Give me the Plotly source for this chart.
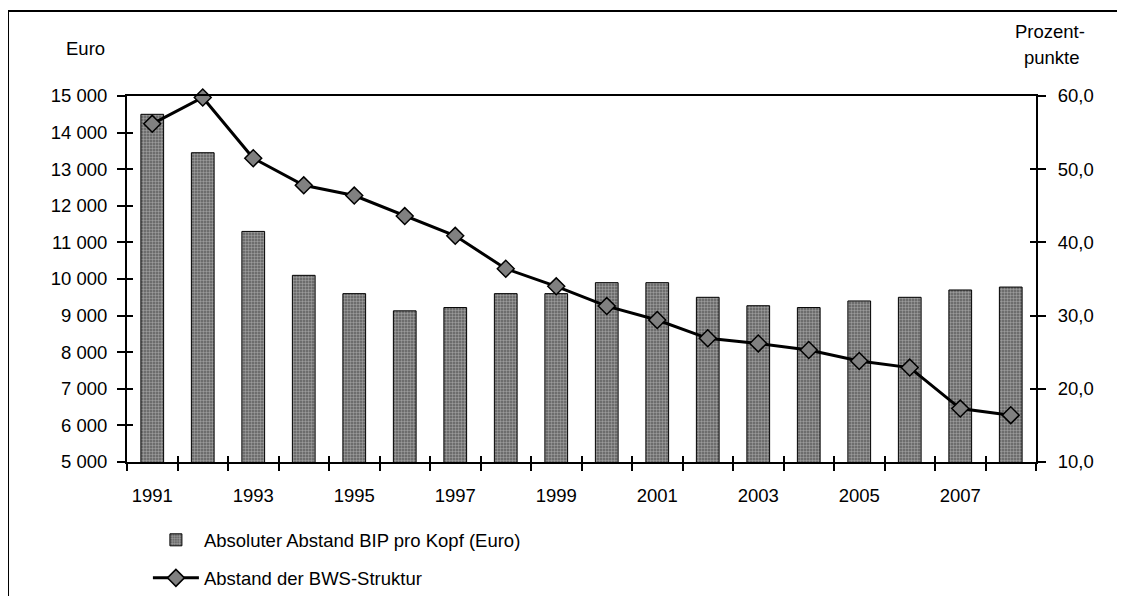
import plotly.graph_objects as go

years = list(range(1991, 2009))
bip_abstand = [14500, 13450, 11300, 10100, 9600, 9130, 9220, 9600, 9600,
               9900, 9900, 9500, 9270, 9220, 9400, 9500, 9700, 9780]
bws_abstand = [56.2, 59.8, 51.5, 47.8, 46.4, 43.6, 40.9, 36.4, 34.0,
               31.3, 29.4, 26.9, 26.2, 25.3, 23.8, 22.9, 17.3, 16.4]
label_years = [1991, 1993, 1995, 1997, 1999, 2001, 2003, 2005, 2007]
boundaries = [y - 0.5 for y in years] + [years[-1] + 0.5]

FONT = "Arial, Liberation Sans, sans-serif"
fs = 18.5

fig = go.Figure()
fig.add_trace(go.Bar(
    x=years, y=bip_abstand, width=0.45,
    name="Absoluter Abstand BIP pro Kopf (Euro)",
    marker=dict(color="#5e5e5e", line=dict(color="black", width=1),
                pattern=dict(shape=".", fgcolor="#d8d8d8", size=3, solidity=0.5)),
    legendgroup="a", xaxis="x", yaxis="y",
))
fig.add_trace(go.Scatter(
    x=years, y=bws_abstand, mode="lines+markers",
    name="Abstand der BWS-Struktur",
    line=dict(color="black", width=3),
    marker=dict(symbol="diamond", size=13, color="#808080",
                line=dict(color="black", width=1.5)),
    cliponaxis=False,
    legendgroup="b", xaxis="x", yaxis="y2",
))
# invisible helper traces so the overlay tick axes (crossing ticks) get drawn
fig.add_trace(go.Scatter(x=years, y=bip_abstand, xaxis="x2", yaxis="y3", mode="markers",
                         marker=dict(opacity=0), showlegend=False, hoverinfo="skip"))
fig.add_trace(go.Scatter(x=years, y=bws_abstand, xaxis="x3", yaxis="y4", mode="markers",
                         marker=dict(opacity=0), showlegend=False, hoverinfo="skip"))

xr = [1990.5, 2008.5]
yr_l = [5000, 15000]
yr_r = [10, 60]
ac = dict(showgrid=False, zeroline=False)
tickstyle = dict(tickwidth=1.5, tickcolor="black")
fig.update_layout(
    width=1125, height=596,
    margin=dict(l=119, r=97, t=88, b=142, autoexpand=False),
    paper_bgcolor="white", plot_bgcolor="white",
    font=dict(family=FONT, size=fs, color="black"),
    separators=", ",
    xaxis=dict(range=xr, tickvals=label_years, ticktext=[str(y) for y in label_years],
               ticks="outside", ticklen=16, tickcolor="rgba(0,0,0,0)",
               showline=True, linecolor="black", linewidth=2, mirror=True, **ac),
    xaxis2=dict(range=xr, overlaying="x", anchor="y", side="bottom",
                tickvals=boundaries, ticks="outside", ticklen=8,
                showticklabels=False, showline=False, **tickstyle, **ac),
    xaxis3=dict(range=xr, overlaying="x", anchor="y", side="bottom",
                tickvals=boundaries, ticks="inside", ticklen=6,
                showticklabels=False, showline=False, **tickstyle, **ac),
    yaxis=dict(range=yr_l, dtick=1000, tickformat=",d", anchor="x",
               ticks="outside", ticklen=8, ticklabelstandoff=6, **tickstyle,
               showline=True, linecolor="black", linewidth=2, **ac),
    yaxis2=dict(range=yr_r, dtick=10, tickformat=".1f", overlaying="y", side="right",
                anchor="x", ticks="outside", ticklen=8, ticklabelstandoff=8, **tickstyle,
                showline=True, linecolor="black", linewidth=2, **ac),
    yaxis3=dict(range=yr_l, dtick=1000, overlaying="y", side="left", anchor="x",
                ticks="inside", ticklen=6, showticklabels=False, showline=False,
                **tickstyle, **ac),
    yaxis4=dict(range=yr_r, dtick=10, overlaying="y", side="right", anchor="x",
                ticks="inside", ticklen=6, showticklabels=False, showline=False,
                **tickstyle, **ac),
    legend=dict(x=0.023, y=-0.162, xanchor="left", yanchor="top",
                orientation="v", itemwidth=46, tracegroupgap=11,
                font=dict(family=FONT, size=fs), bgcolor="rgba(0,0,0,0)"),
    showlegend=True,
)

fig.add_annotation(text="Euro", xref="paper", yref="paper", x=-0.046, y=1.131,
                   showarrow=False, xanchor="center", yanchor="middle", font=dict(size=fs))
fig.add_annotation(text="Prozent-", xref="paper", yref="paper", x=1.0154, y=1.175,
                   showarrow=False, xanchor="center", yanchor="middle", font=dict(size=fs))
fig.add_annotation(text="punkte", xref="paper", yref="paper", x=1.0176, y=1.104,
                   showarrow=False, xanchor="center", yanchor="middle", font=dict(size=fs))

fig.add_shape(type="rect", xref="paper", yref="paper",
              x0=-0.1309, x1=1.12, y0=-0.40, y1=1.2322,
              line=dict(color="black", width=2), fillcolor="rgba(0,0,0,0)", layer="below")

fig.write_html("out.html")
